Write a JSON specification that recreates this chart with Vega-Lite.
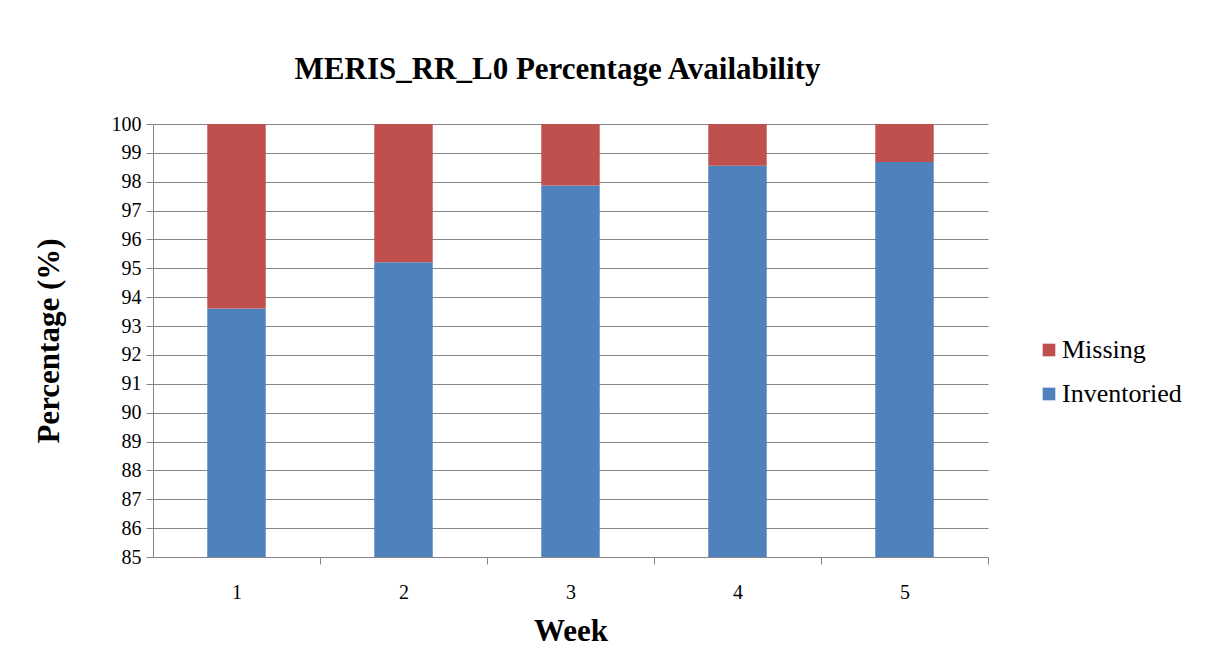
{
  "$schema": "https://vega.github.io/schema/vega-lite/v6.json",
  "autosize": "none",
  "width": 835,
  "height": 433,
  "padding": {"left": 153, "top": 124, "right": 217, "bottom": 106},
  "background": "white",
  "title": {
    "text": "MERIS_RR_L0 Percentage Availability",
    "font": "Liberation Serif",
    "fontSize": 31,
    "fontWeight": "bold",
    "color": "#000000",
    "anchor": "middle",
    "dx": -13,
    "offset": 28
  },
  "data": {
    "values": [
      {"week": "1", "status": "Inventoried", "pct": 93.61},
      {"week": "1", "status": "Missing", "pct": 6.39},
      {"week": "2", "status": "Inventoried", "pct": 95.21},
      {"week": "2", "status": "Missing", "pct": 4.79},
      {"week": "3", "status": "Inventoried", "pct": 97.87},
      {"week": "3", "status": "Missing", "pct": 2.13},
      {"week": "4", "status": "Inventoried", "pct": 98.55},
      {"week": "4", "status": "Missing", "pct": 1.45},
      {"week": "5", "status": "Inventoried", "pct": 98.68},
      {"week": "5", "status": "Missing", "pct": 1.32}
    ]
  },
  "transform": [
    {"calculate": "datum.status === 'Inventoried' ? 0 : 1", "as": "ord"}
  ],
  "mark": {"type": "bar", "clip": true},
  "encoding": {
    "x": {
      "field": "week",
      "type": "nominal",
      "scale": {"paddingInner": 0.65, "paddingOuter": 0.325},
      "axis": {
        "title": "Week",
        "titleFont": "Liberation Serif",
        "titleFontSize": 31,
        "titleFontWeight": "bold",
        "titleColor": "#000000",
        "titlePadding": 14,
        "labelAngle": 0,
        "labelFont": "Liberation Sans Narrow",
        "labelFontSize": 20,
        "labelColor": "#000000",
        "labelPadding": 18,
        "tickOffset": 83.5,
        "labelOffset": -83.5,
        "tickSize": 7,
        "tickColor": "#868686",
        "domainColor": "#868686",
        "grid": false
      }
    },
    "y": {
      "field": "pct",
      "type": "quantitative",
      "stack": "zero",
      "scale": {"domain": [85, 100], "nice": false, "zero": false},
      "axis": {
        "title": "Percentage (%)",
        "titleFont": "Liberation Serif",
        "titleFontSize": 31,
        "titleFontWeight": "bold",
        "titleColor": "#000000",
        "titlePadding": 46,
        "values": [85,86,87,88,89,90,91,92,93,94,95,96,97,98,99,100],
        "labelFont": "Liberation Sans Narrow",
        "labelFontSize": 20,
        "labelColor": "#000000",
        "labelPadding": 5,
        "tickSize": 7,
        "tickColor": "#868686",
        "domainColor": "#868686",
        "grid": true,
        "gridColor": "#868686",
        "gridWidth": 1.2
      }
    },
    "color": {
      "field": "status",
      "type": "nominal",
      "scale": {"domain": ["Missing", "Inventoried"], "range": ["#C0504D", "#4F81BD"]},
      "legend": {
        "title": null,
        "orient": "none",
        "legendX": 883,
        "legendY": 213,
        "labelFont": "Liberation Serif",
        "labelFontSize": 26,
        "labelColor": "#000000",
        "symbolType": "square",
        "symbolSize": 160,
        "symbolStrokeWidth": 0,
        "rowPadding": 18,
        "labelOffset": 0
      }
    },
    "order": {"field": "ord", "type": "quantitative"}
  },
  "config": {"view": {"stroke": null}}
}
